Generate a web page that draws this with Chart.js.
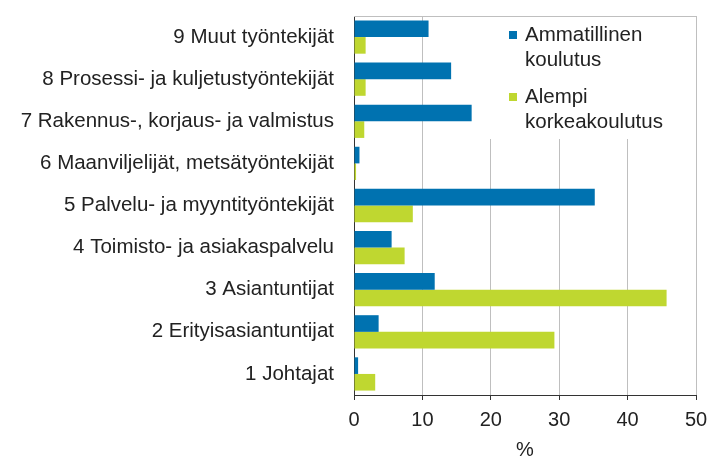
<!DOCTYPE html>
<html>
<head>
<meta charset="utf-8">
<script src="https://cdn.jsdelivr.net/npm/chart.js@4"></script>
<style>
  body { margin: 0; background: #fff; }
</style>
</head>
<body>
<canvas id="myChart" width="709" height="459"></canvas>
<script>
const categories = [
  '9 Muut työntekijät',
  '8 Prosessi- ja kuljetustyöntekijät',
  '7 Rakennus-, korjaus- ja valmistus',
  '6 Maanviljelijät, metsätyöntekijät',
  '5 Palvelu- ja myyntityöntekijät',
  '4 Toimisto- ja asiakaspalvelu',
  '3 Asiantuntijat',
  '2 Erityisasiantuntijat',
  '1 Johtajat'
];
const ammatillinen = [10.9, 14.2, 17.2, 0.8, 35.2, 5.5, 11.8, 3.6, 0.6];
const alempiKorkea = [1.7, 1.7, 1.5, 0.3, 8.6, 7.4, 45.7, 29.3, 3.1];
const seriesNames = [['Ammatillinen', 'koulutus'], ['Alempi', 'korkeakoulutus']];
const xTicks = [0, 10, 20, 30, 40, 50];

const BLUE = '#0072b0';
const GREEN = '#bfd730';
const TEXT = '#222222';
const FONT = 'Liberation Sans, Arial, sans-serif';

// legend box sits inside the plot area, top right, like the original
const boxLegend = {
  id: 'boxLegend',
  beforeDatasetsDraw(chart) {
    const ctx = chart.ctx;
    const a = chart.chartArea;
    ctx.save();
    ctx.strokeStyle = '#bfbfbf';
    ctx.lineWidth = 1;
    ctx.beginPath();
    ctx.moveTo(a.left, a.top + 0.5);
    ctx.lineTo(a.right, a.top + 0.5);
    ctx.stroke();
    ctx.restore();
  },
  afterDraw(chart) {
    const ctx = chart.ctx;
    const a = chart.chartArea;
    ctx.save();
    ctx.fillStyle = '#fff';
    ctx.fillRect(485, a.top + 1, a.right - 487, 122);
    const colors = [BLUE, GREEN];
    const starts = [35, 97];
    ctx.font = '20.5px ' + FONT;
    ctx.textBaseline = 'middle';
    seriesNames.forEach(function (lines, i) {
      ctx.fillStyle = colors[i];
      ctx.fillRect(509, starts[i] - 4, 8, 8);
      ctx.fillStyle = TEXT;
      lines.forEach(function (txt, j) {
        ctx.fillText(txt, 525, starts[i] + j * 25);
      });
    });
    ctx.restore();
  }
};

document.addEventListener('DOMContentLoaded', function () {
  const ctx = document.getElementById('myChart').getContext('2d');

  new Chart(ctx, {
    type: 'bar',
    data: {
      labels: categories,
      datasets: [
        {
          label: seriesNames[0].join(' '),
          data: ammatillinen,
          backgroundColor: BLUE,
          categoryPercentage: 0.79,
          barPercentage: 1
        },
        {
          label: seriesNames[1].join(' '),
          data: alempiKorkea,
          backgroundColor: GREEN,
          categoryPercentage: 0.79,
          barPercentage: 1
        }
      ]
    },
    options: {
      indexAxis: 'y',
      responsive: false,
      animation: false,
      layout: { padding: { top: 16, right: 13, left: 0, bottom: 0 } },
      plugins: {
        legend: { display: false },
        tooltip: { enabled: false }
      },
      scales: {
        x: {
          min: 0,
          max: 50,
          afterBuildTicks: function (scale) {
            scale.ticks = xTicks.map(function (v) { return { value: v }; });
          },
          afterFit: function (scale) {
            scale.height = 64;
            scale.paddingLeft = 0;
            scale.paddingRight = 0;
          },
          grid: {
            color: '#bfbfbf',
            tickColor: '#333',
            tickLength: 5
          },
          border: { color: '#333', width: 1 },
          ticks: {
            color: TEXT,
            font: { family: FONT, size: 20 },
            padding: 8
          },
          title: {
            display: true,
            text: '%',
            color: TEXT,
            font: { family: FONT, size: 20 },
            padding: { top: 0, bottom: -3 }
          }
        },
        y: {
          afterFit: function (scale) {
            scale.width = 354;
            scale.paddingTop = 0;
            scale.paddingBottom = 0;
          },
          grid: { display: false },
          border: { color: '#333', width: 1 },
          ticks: {
            color: TEXT,
            font: { family: FONT, size: 20.5 },
            padding: 12,
            autoSkip: false
          }
        }
      }
    },
    plugins: [boxLegend]
  });
});
</script>
</body>
</html>
